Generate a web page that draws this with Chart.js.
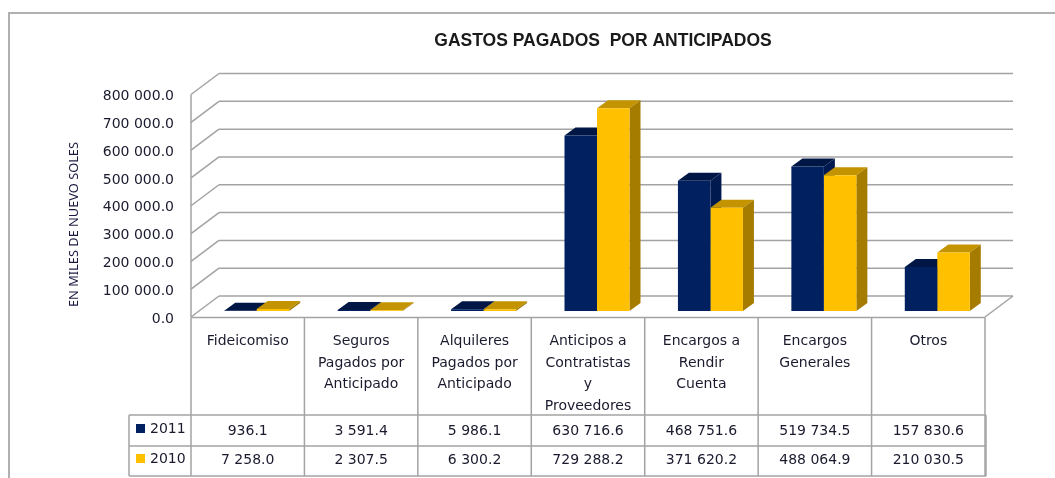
<!DOCTYPE html>
<html><head><meta charset="utf-8">
<style>html,body{margin:0;padding:0;background:#fff}#w{width:1055px;height:478px;position:relative}</style>
<script src="https://cdn.jsdelivr.net/npm/chart.js@4"></script>
</head><body><div id="w"><canvas id="c" width="1055" height="478"></canvas></div>
<script>
const categories=[["Fideicomiso"],["Seguros","Pagados por","Anticipado"],["Alquileres","Pagados por","Anticipado"],["Anticipos a","Contratistas","y","Proveedores"],["Encargos a","Rendir","Cuenta"],["Encargos","Generales"],["Otros"]];
const series2011=[936.1,3591.4,5986.1,630716.6,468751.6,519734.5,157830.6];
const series2010=[7258.0,2307.5,6300.2,729288.2,371620.2,488064.9,210030.5];
const yTicks=[0,100000,200000,300000,400000,500000,600000,700000,800000];
const titleText="GASTOS PAGADOS  POR ANTICIPADOS";
const yTitle="EN MILES DE NUEVO SOLES";

const fontName='"DejaVu Sans"';
const grid='#a3a3a3';
const fmt=v=>{const s=Math.abs(v).toFixed(1).split('.');return s[0].replace(/\B(?=(\d{3})+(?!\d))/g,' ')+'.'+s[1];};
const BAR_DX=9,BAR_DY=-8,D_X=11,D_Y=-8;
const faces=[{top:'#001745',side:'#001a4f'},{top:'#c49400',side:'#a67c00'}];
function line(ctx,a,b,c,d){ctx.beginPath();ctx.moveTo(a,b);ctx.lineTo(c,d);ctx.stroke();}

const scene={id:'scene',
 afterLayout(chart){
  chart.titleBlock.left=151;chart.titleBlock.right=1055;
  chart.scales.y.top=130;
 },
 beforeDraw(chart){
  const ctx=chart.ctx,{x,y}=chart.scales;
  ctx.save();
  ctx.fillStyle='#fff';ctx.fillRect(0,0,chart.width,chart.height);
  ctx.strokeStyle='#b0b0b0';ctx.lineWidth=2;
  ctx.beginPath();ctx.moveTo(9,478);ctx.lineTo(9,13);ctx.lineTo(1055,13);ctx.stroke();
  const half=(x.getPixelForValue(1)-x.getPixelForValue(0))/2;
  const L=x.getPixelForValue(0)-half,R=x.getPixelForValue(categories.length-1)+half;
  ctx.strokeStyle=grid;ctx.lineWidth=1.5;
  yTicks.forEach(v=>{
    const p=y.getPixelForValue(v)-2;
    line(ctx,L,p,L+28,p-21);
    line(ctx,L+28,p-21,R+28,p-21);
  });
  const z=y.getPixelForValue(0)-2;
  line(ctx,L,y.getPixelForValue(800000)-2,L,z);
  line(ctx,R,z,R+28,z-21);
  ctx.restore();
 },
 beforeDatasetsDraw(chart){
  const ctx=chart.ctx;ctx.save();ctx.translate(BAR_DX,BAR_DY);
  [0,1].forEach(d=>{
   const f=faces[d];
   chart.getDatasetMeta(d).data.forEach(b=>{
    const l=b.x-b.width/2,r=b.x+b.width/2;
    ctx.fillStyle=f.top;ctx.beginPath();ctx.moveTo(l,b.y);ctx.lineTo(l+D_X,b.y+D_Y);ctx.lineTo(r+D_X,b.y+D_Y);ctx.lineTo(r,b.y);ctx.fill();
    ctx.fillStyle=f.side;ctx.beginPath();ctx.moveTo(r,b.y);ctx.lineTo(r+D_X,b.y+D_Y);ctx.lineTo(r+D_X,b.base+D_Y);ctx.lineTo(r,b.base);ctx.fill();
   });
  });
  ctx.restore();
 },
 beforeDatasetDraw(chart){const ctx=chart.ctx;ctx.save();ctx.translate(BAR_DX,BAR_DY);},
 afterDatasetDraw(chart){chart.ctx.restore();},
 afterDraw(chart){
  const ctx=chart.ctx,{x,y}=chart.scales;
  const half=(x.getPixelForValue(1)-x.getPixelForValue(0))/2;
  const L=x.getPixelForValue(0)-half,R=x.getPixelForValue(categories.length-1)+half;
  const T=y.getPixelForValue(0)-1.5,R1=415,R2=446,R3=476,LB=129;
  ctx.save();
  ctx.strokeStyle=grid;ctx.lineWidth=1.5;
  line(ctx,L,T,R,T);
  for(let i=0;i<=categories.length;i++){const px=L+i*half*2;line(ctx,px,T,px,R3);}
  [R1,R2,R3].forEach(p=>line(ctx,LB,p,R+1,p));
  line(ctx,LB,R1,LB,R3);
  line(ctx,R+1,R1,R+1,R3);
  ctx.font='14px '+fontName;ctx.fillStyle='#1a1a2e';ctx.textAlign='center';ctx.textBaseline='middle';
  [series2011,series2010].forEach((s,r)=>{
    const cy=r?460.5:431.5;
    s.forEach((v,i)=>ctx.fillText(fmt(v),x.getPixelForValue(i),cy));
  });
  ctx.textAlign='left';
  ctx.fillText(chart.data.datasets[0].label,150,429.5);
  ctx.fillText(chart.data.datasets[1].label,150,459);
  ctx.fillStyle='#002060';ctx.fillRect(136,424,9,9);
  ctx.fillStyle='#FFC000';ctx.fillRect(136,454,9,9);
  ctx.restore();
 }
};

new Chart(document.getElementById('c'),{
 type:'bar',
 data:{labels:categories,datasets:[
  {label:'2011',data:series2011,backgroundColor:'#002060',clip:false,categoryPercentage:0.573,barPercentage:1},
  {label:'2010',data:series2010,backgroundColor:'#FFC000',clip:false,categoryPercentage:0.573,barPercentage:1}
 ]},
 options:{
  responsive:false,animation:false,
  layout:{padding:{left:0,top:0,bottom:0,right:70}},
  plugins:{legend:{display:false},tooltip:{enabled:false},
   title:{display:true,text:titleText,color:'#1a1a1a',font:{family:'"Liberation Sans"',size:17.5,weight:'bold'},padding:{top:30.5,bottom:45}}},
  scales:{
   x:{grid:{display:false,drawTicks:false},border:{display:false},
      afterFit(s){s.height=159;},
      ticks:{color:'#1a1a2e',font:{family:fontName,size:14,lineHeight:1.55},padding:11.5,autoSkip:false,maxRotation:0,minRotation:0}},
   y:{min:0,max:800000,grid:{display:false,drawTicks:false},border:{display:false},
      afterFit(s){s.width=191;},
      afterBuildTicks(s){s.ticks=yTicks.map(v=>({value:v}));},
      title:{display:true,text:yTitle,color:'#1a1a40',font:{family:'"Noto Sans"',size:12.8},padding:{top:67,bottom:0}},
      ticks:{color:'#1a1a2e',font:{family:fontName,size:14},padding:17,callback:v=>fmt(v)}}
  }
 },
 plugins:[scene]
});
</script></body></html>
